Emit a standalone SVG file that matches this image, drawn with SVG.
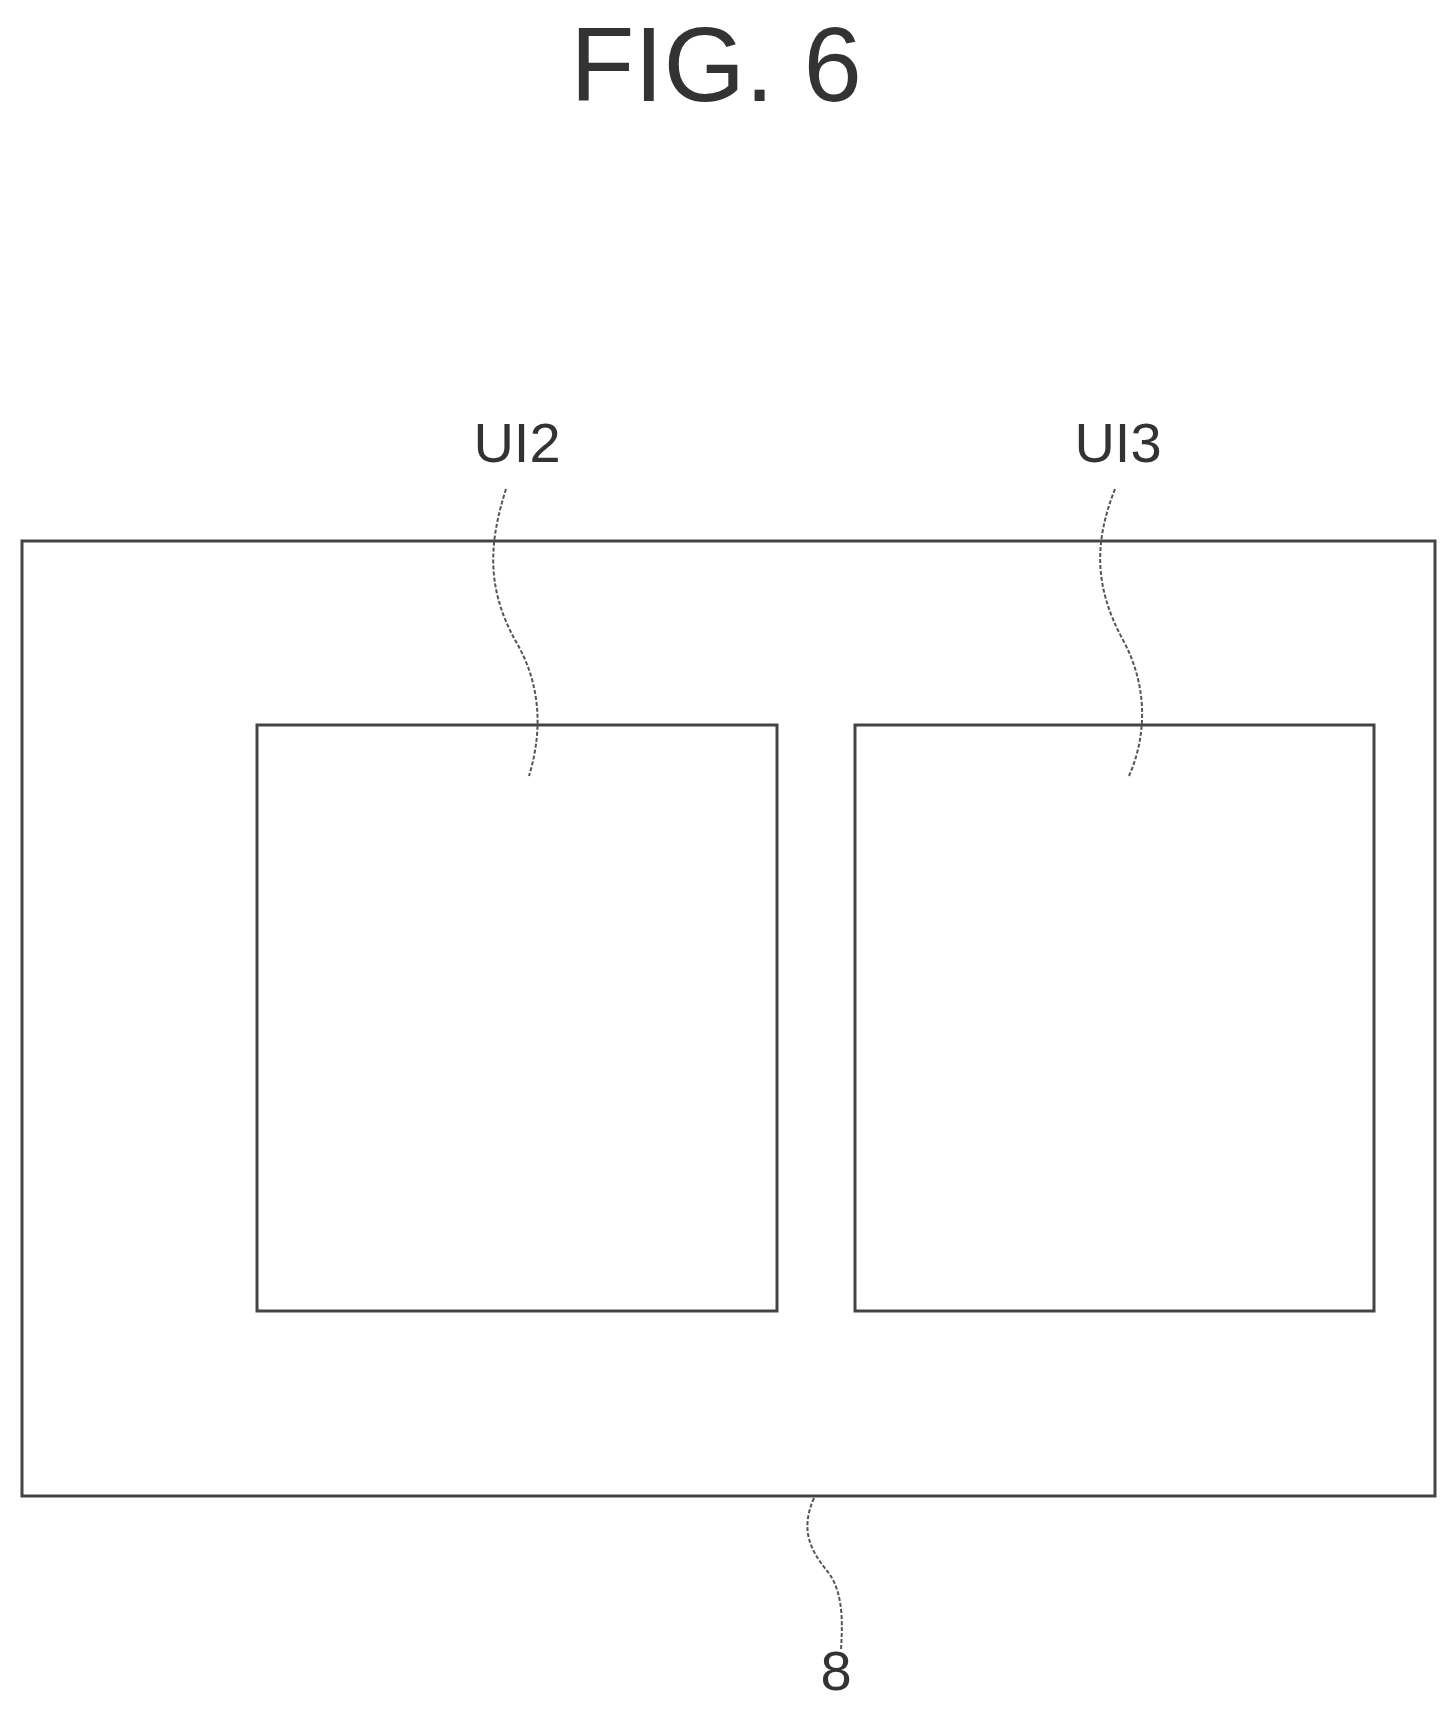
<svg xmlns="http://www.w3.org/2000/svg" width="1454" height="1711" viewBox="0 0 1454 1711">
<style>
.b{fill:none;stroke:#444;stroke-width:3}
.l{fill:none;stroke:#555;stroke-width:2;stroke-dasharray:4 2}
text{font-family:"Liberation Sans",Arial,sans-serif;fill:#333;text-anchor:middle}
</style>
<rect width="1454" height="1711" fill="#fff"/>
<text x="716" y="101" font-size="105">FIG. 6</text>
<g id="display"><rect class="b" x="22" y="541" width="1413" height="955"/></g>
<g id="UI2box"><rect class="b" x="257" y="725" width="520" height="586"/></g>
<g id="UI3box"><rect class="b" x="855" y="725" width="519" height="586"/></g>
<g id="labels">
<text x="517" y="462" font-size="56">UI2</text>
<text x="1118" y="462" font-size="56">UI3</text>
<text x="836" y="1690" font-size="56">8</text>
</g>
<g id="connectors">
<path class="l" d="M506,489 C490,540 485,585 515,640 C545,690 540,740 529,776"/>
<path class="l" d="M1115,489 C1095,540 1093,585 1123,640 C1150,690 1145,740 1129,776"/>
<path class="l" d="M814,1498 C800,1530 810,1550 828,1572 C845,1594 842,1630 841,1650"/>
</g>
</svg>
